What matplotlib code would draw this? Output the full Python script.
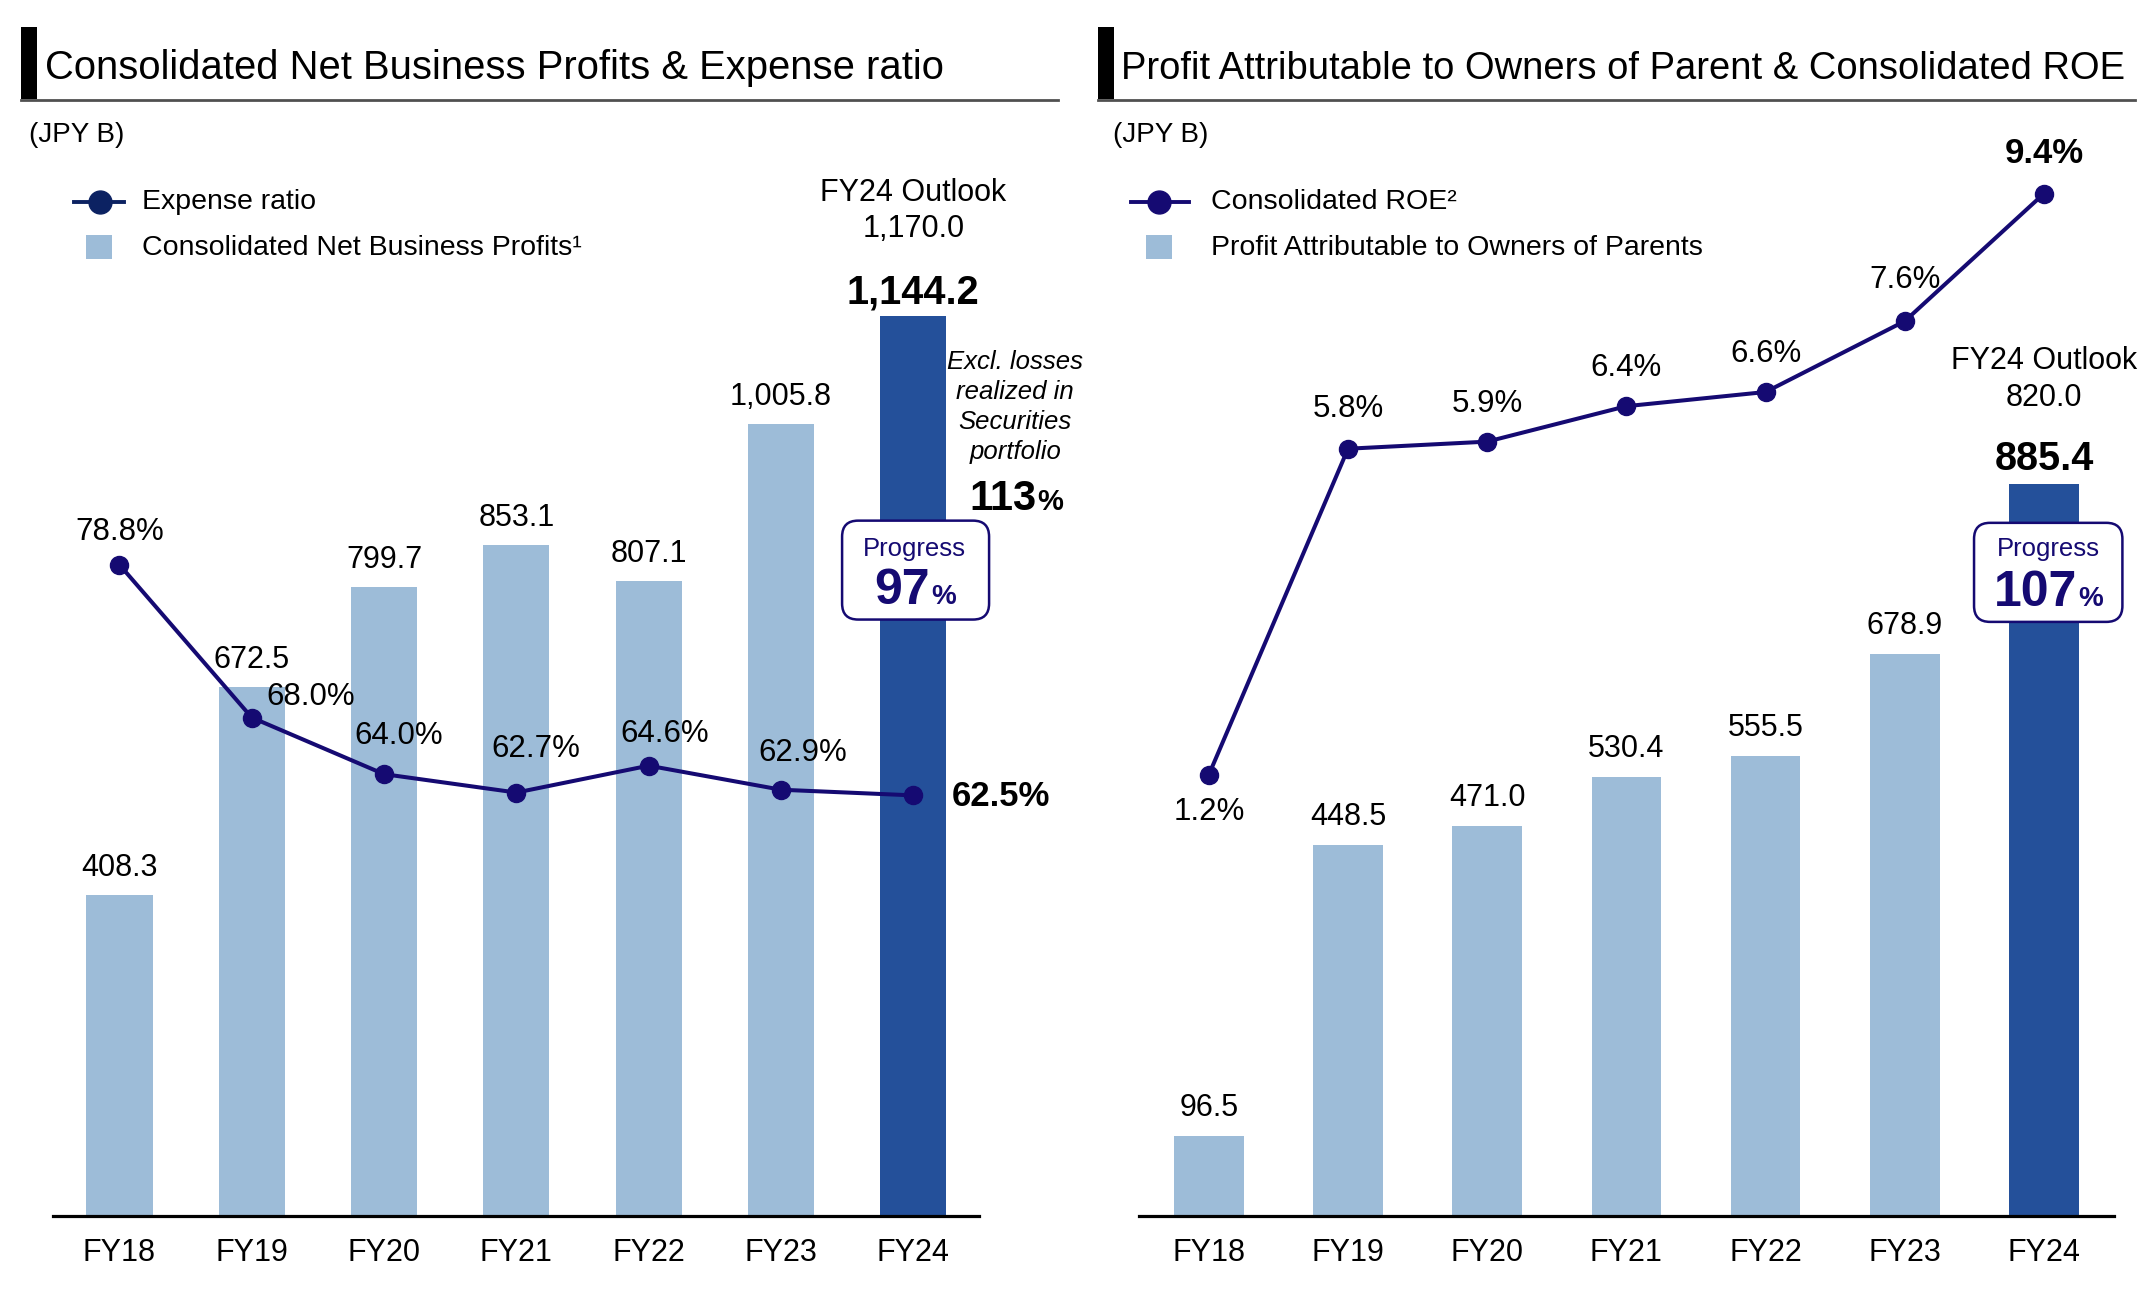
import matplotlib
matplotlib.use('Agg')
import matplotlib.pyplot as plt
from matplotlib.patches import FancyBboxPatch, Rectangle
from matplotlib.lines import Line2D

plt.rcParams['font.family'] = ['Liberation Sans', 'DejaVu Sans']

# ---------------- data ----------------
years = ['FY18', 'FY19', 'FY20', 'FY21', 'FY22', 'FY23', 'FY24']
net_business_profits = [408.3, 672.5, 799.7, 853.1, 807.1, 1005.8, 1144.2]
expense_ratio = [78.8, 68.0, 64.0, 62.7, 64.6, 62.9, 62.5]
profit_owners = [96.5, 448.5, 471.0, 530.4, 555.5, 678.9, 885.4]
roe = [1.2, 5.8, 5.9, 6.4, 6.6, 7.6, 9.4]
outlook_nbp = 1170.0
outlook_profit = 820.0
progress_nbp = 97
progress_profit = 107
progress_excl = 113

# ---------------- style ----------------
LIGHT = '#9dbcd8'
DARK = '#24509a'
NAVY = '#150a72'
LEG_NAVY = '#0c2262'
RULE = '#505050'
FS = 22
FSP = 22.5

W, H = 2154, 1306
K = W / 1568.0          # layout measured on a 1568-wide grid


def fx(xd):
    return xd / 1568.0


def fy(yd):
    return 1 - yd * K / H


def inch(xd, yd):
    return xd * K / 100.0, (H - yd * K) / 100.0


fig = plt.figure(figsize=(W / 100, H / 100), dpi=100)
renderer = fig.canvas.get_renderer()

x = list(range(len(years)))


def make_axes(x0, x1):
    ax = fig.add_axes([fx(x0), fy(885), fx(x1) - fx(x0), fy(120) - fy(885)])
    ax.set_xlim(-0.5, 6.5)
    for s in ['left', 'right', 'top']:
        ax.spines[s].set_visible(False)
    ax.spines['bottom'].set_linewidth(2.3)
    ax.spines['bottom'].set_color('black')
    ax.set_yticks([])
    ax.set_xticks(x)
    ax.set_xticklabels(years)
    ax.tick_params(axis='x', length=0, pad=16, labelsize=FS)
    tw = ax.twinx()
    tw.set_xlim(-0.5, 6.5)
    tw.axis('off')
    return ax, tw


# ================= LEFT PANEL =================
axL, twL = make_axes(38.8, 713)
axL.set_ylim(0, 765 / 0.5727)
twL.set_ylim(62.5 - 306 / 10.3, 62.5 + 459 / 10.3)

colorsL = [LIGHT] * 6 + [DARK]
axL.bar(x, net_business_profits, width=0.5, color=colorsL, zorder=2)
for i, v in enumerate(net_business_profits):
    if i < 6:
        axL.annotate(f'{v:,.1f}', (i, v), xytext=(0, 19), textcoords='offset pixels',
                     ha='center', va='baseline', fontsize=FS)
    else:
        axL.annotate(f'{v:,.1f}', (i, v), xytext=(0, 12), textcoords='offset pixels',
                     ha='center', va='baseline', fontsize=28.5, fontweight='bold')
axL.annotate('FY24 Outlook', (6, net_business_profits[6]), xytext=(0, 123),
             textcoords='offset pixels', ha='center', va='center', fontsize=FS)
axL.annotate(f'{outlook_nbp:,.1f}', (6, net_business_profits[6]), xytext=(0, 87),
             textcoords='offset pixels', ha='center', va='center', fontsize=FS)

twL.plot(x, expense_ratio, color=NAVY, lw=2.9, marker='o', ms=13, zorder=5)
offL = [(0, 33, 'center'), (15, 21, 'left'), (15, 38, 'center'), (19, 44, 'center'),
        (16, 32, 'center'), (22, 37, 'center'), (38, -1, 'left')]
for i, v in enumerate(expense_ratio):
    dx, dy, ha = offL[i]
    bold = (i == 6)
    twL.annotate(f'{v:.1f}%', (i, v), xytext=(dx, dy), textcoords='offset pixels',
                 ha=ha, va='center', fontsize=25 if bold else FSP,
                 fontweight='bold' if bold else 'normal')

# ================= RIGHT PANEL =================
axR, twR = make_axes(829.3, 1538.6)
axR.set_ylim(0, 765 / 0.602)
twR.set_ylim(1.2 - 321 / 51.6, 1.2 + 444 / 51.6)

axR.bar(x, profit_owners, width=0.5, color=colorsL, zorder=2)
for i, v in enumerate(profit_owners):
    if i < 6:
        axR.annotate(f'{v:,.1f}', (i, v), xytext=(0, 20), textcoords='offset pixels',
                     ha='center', va='baseline', fontsize=FS)
    else:
        axR.annotate(f'{v:,.1f}', (i, v), xytext=(0, 14), textcoords='offset pixels',
                     ha='center', va='baseline', fontsize=28.5, fontweight='bold')
axR.annotate('FY24 Outlook', (6, profit_owners[6]), xytext=(0, 123),
             textcoords='offset pixels', ha='center', va='center', fontsize=FS)
axR.annotate(f'{outlook_profit:,.1f}', (6, profit_owners[6]), xytext=(0, 86),
             textcoords='offset pixels', ha='center', va='center', fontsize=FS)

twR.plot(x, roe, color=NAVY, lw=2.9, marker='o', ms=13, zorder=5)
offR = [-37, 40, 38, 38, 38, 41, 40]
for i, v in enumerate(roe):
    bold = (i == 6)
    twR.annotate(f'{v:.1f}%', (i, v), xytext=(0, offR[i]), textcoords='offset pixels',
                 ha='center', va='center', fontsize=25 if bold else FSP,
                 fontweight='bold' if bold else 'normal')

# ================= headers =================
def header(x0, x1, xt, xend, title):
    fig.add_artist(Rectangle((fx(x0), fy(72)), fx(12), fy(19.4) - fy(72),
                             transform=fig.transFigure, color='black', lw=0))
    fig.add_artist(Line2D([fx(x0), fx(x1)], [fy(72.5), fy(72.5)], transform=fig.transFigure,
                          color=RULE, lw=2.0))
    t = fig.text(fx(xt), fy(57.7), title, ha='left', va='baseline', fontsize=29)
    # fit the title to the measured width
    w = t.get_window_extent(renderer=renderer).width
    target = (xend - xt) * K
    t.set_fontsize(29 * target / w)


header(15, 770, 32.5, 687, 'Consolidated Net Business Profits & Expense ratio')
header(799, 1554, 816, 1546, 'Profit Attributable to Owners of Parent & Consolidated ROE')

fig.text(fx(21), fy(98), '(JPY B)', ha='left', va='center', fontsize=20)
fig.text(fx(810), fy(98), '(JPY B)', ha='left', va='center', fontsize=20)

# ================= legends =================
def legend(lx0, lx1, mx, sqc, tx, color, t1, t2):
    fig.add_artist(Line2D([fx(lx0), fx(lx1)], [fy(146.8), fy(146.8)], transform=fig.transFigure,
                          color=color, lw=2.8))
    fig.add_artist(Line2D([fx(mx)], [fy(146.8)], transform=fig.transFigure, color=color,
                          marker='o', ms=16.5, lw=0))
    fig.add_artist(Rectangle((fx(sqc - 9.5), fy(188.5)), fx(19), fy(171) - fy(188.5),
                             transform=fig.transFigure, color=LIGHT, lw=0))
    fig.text(fx(tx), fy(146.8), t1, ha='left', va='center', fontsize=20.5)
    fig.text(fx(tx), fy(180.6), t2, ha='left', va='center', fontsize=20.5)


legend(54, 90, 72.5, 72, 103.5, LEG_NAVY, 'Expense ratio', 'Consolidated Net Business Profits\u00b9')
legend(823, 865.4, 843.8, 844, 881.5, NAVY, 'Consolidated ROE\u00b2',
       'Profit Attributable to Owners of Parents')

# ================= progress boxes =================
def progress_box(x0, x1, y0, y1, cx, pct, split_x, base_y):
    (ix0, iy0) = inch(x0, y1)
    (ix1, iy1) = inch(x1, y0)
    fig.add_artist(FancyBboxPatch((ix0, iy0), ix1 - ix0, iy1 - iy0,
                                  boxstyle='round,pad=0,rounding_size=0.16',
                                  transform=fig.dpi_scale_trans, fc='white', ec=NAVY, lw=1.8))
    fig.text(fx(cx), fy(405), 'Progress', ha='center', va='baseline', fontsize=18.5, color=NAVY)
    fig.text(fx(split_x), fy(base_y), f'{pct}', ha='right', va='baseline', fontsize=36,
             fontweight='bold', color=NAVY)
    fig.text(fx(split_x + 1.0), fy(base_y), '%', ha='left', va='baseline', fontsize=20,
             fontweight='bold', color=NAVY)


progress_box(613, 720, 379, 451, 665.5, progress_nbp, 677, 439.6)
progress_box(1437, 1545, 380.6, 452.7, 1491, progress_profit, 1512, 441.5)

# Excl. losses note
fig.text(fx(739), fy(296), 'Excl. losses\nrealized in\nSecurities\nportfolio', ha='center',
         va='center', fontsize=18.5, fontstyle='italic', linespacing=1.32)
fig.text(fx(754.5), fy(371), f'{progress_excl}', ha='right', va='baseline', fontsize=30,
         fontweight='bold')
fig.text(fx(755), fy(371), '%', ha='left', va='baseline', fontsize=21, fontweight='bold')

fig.savefig('out.png', dpi=100)
